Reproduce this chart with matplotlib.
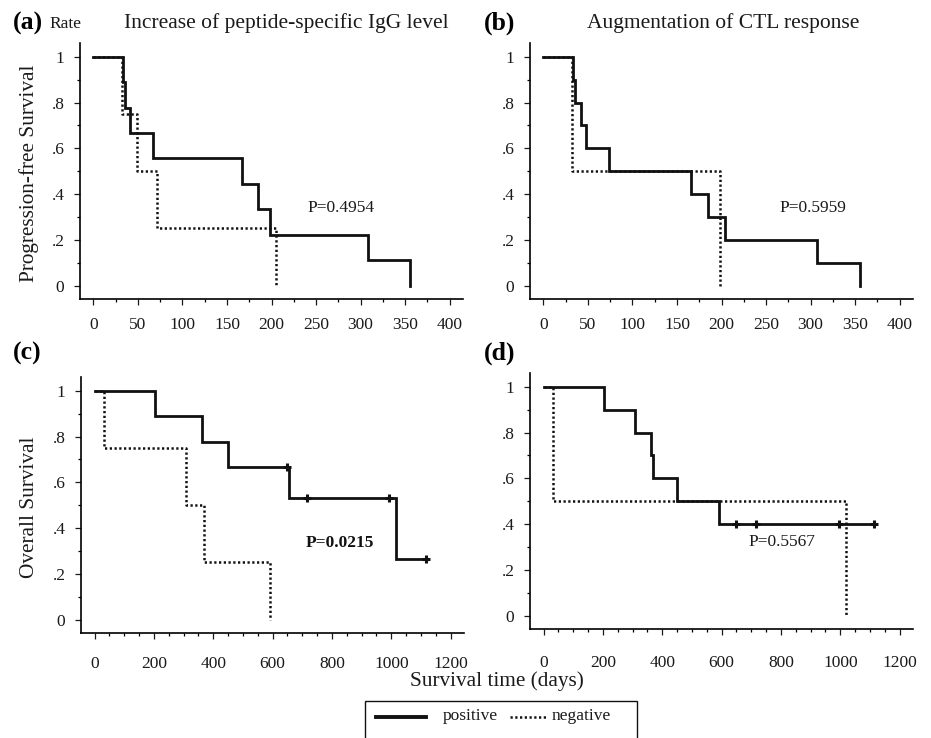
import matplotlib
matplotlib.use("Agg")
import matplotlib.pyplot as plt
from matplotlib.patches import Rectangle
from matplotlib.lines import Line2D
from matplotlib.ticker import MultipleLocator, FixedLocator, FixedFormatter

plt.rcParams['font.family'] = ['Liberation Serif', 'DejaVu Serif']

# ---------------- data ----------------
# (a) PFS by IgG increase
pfs_igg_pos_t = [0, 33, 36, 41, 67, 167, 185, 198, 308, 355]
pfs_igg_pos_s = [1, .889, .778, .667, .556, .444, .333, .222, .111, 0]
pfs_igg_neg_t = [0, 32, 49, 72, 205]
pfs_igg_neg_s = [1, .75, .5, .25, 0]
# (b) PFS by CTL augmentation
pfs_ctl_pos_t = [0, 33, 36, 42, 48, 74, 166, 185, 204, 307, 355]
pfs_ctl_pos_s = [1, .9, .8, .7, .6, .5, .4, .3, .2, .1, 0]
pfs_ctl_neg_t = [0, 32, 198]
pfs_ctl_neg_s = [1, .5, 0]
# (c) OS by IgG increase
os_igg_pos_t = [0, 202, 363, 448, 654, 1016, 1116]
os_igg_pos_s = [1, .889, .778, .667, .533, .267, .267]
os_igg_cens_t = [650, 716, 993, 1116]
os_igg_cens_s = [.667, .533, .533, .267]
os_igg_neg_t = [0, 30, 308, 370, 592]
os_igg_neg_s = [1, .75, .5, .25, 0]
# (d) OS by CTL augmentation
os_ctl_pos_t = [0, 202, 308, 362, 369, 448, 590, 1114]
os_ctl_pos_s = [1, .9, .8, .7, .6, .5, .4, .4]
os_ctl_cens_t = [648, 716, 994, 1114]
os_ctl_cens_s = [.4, .4, .4, .4]
os_ctl_neg_t = [0, 30, 1018]
os_ctl_neg_s = [1, .5, 0]

y_ticks = [0, .2, .4, .6, .8, 1]
y_ticklabels = ['0', '.2', '.4', '.6', '.8', '1']
pfs_xticks = [0, 50, 100, 150, 200, 250, 300, 350, 400]
os_xticks = [0, 200, 400, 600, 800, 1000, 1200]

p_values = ['P=0.4954', 'P=0.5959', 'P=0.0215', 'P=0.5567']
panel_letters = ['(a)', '(b)', '(c)', '(d)']
titles = ['Increase of peptide-specific IgG level', 'Augmentation of CTL response']
legend_labels = ['positive', 'negative']

# ---------------- figure ----------------
W, H = 931, 738
fig = plt.figure(figsize=(W / 100, H / 100), dpi=100)


def rect(l, r, t, b):
    return [l / W, 1 - b / H, (r - l) / W, (b - t) / H]


def fx(x):
    return x / W


def fy(y):
    return 1 - y / H


SOLID_LW = 2.0
DOT_LW = 1.8
TICK_FS = 12.5
DOTS = (0, (0.9, 1.0))


def style(ax, xticks, minor, xlim, xpad):
    ax.set_xlim(*xlim)
    ax.set_ylim(-0.058, 1.06)
    for s in ['top', 'right']:
        ax.spines[s].set_visible(False)
    for s in ['left', 'bottom']:
        ax.spines[s].set_linewidth(1.2)
    ax.xaxis.set_major_locator(FixedLocator(xticks))
    ax.xaxis.set_minor_locator(MultipleLocator(minor))
    ax.set_xticklabels([str(v) for v in xticks])
    ax.yaxis.set_major_locator(FixedLocator(y_ticks))
    ax.yaxis.set_major_formatter(FixedFormatter(y_ticklabels))
    ax.yaxis.set_minor_locator(MultipleLocator(0.1))
    ax.tick_params(which='major', length=4.2, width=0.9, labelsize=TICK_FS, colors='#1a1a1a')
    ax.tick_params(which='minor', length=2.2, width=0.9)
    ax.tick_params(axis='x', which='major', pad=xpad)
    ax.tick_params(axis='y', which='major', pad=7)


def km(ax, pt, ps, nt, ns, ct=None, cs=None):
    ax.step(pt, ps, where='post', color='#111111', lw=SOLID_LW, solid_joinstyle='miter')
    if ct is not None:
        ax.plot(ct, cs, linestyle='none', marker='+', ms=5.5, mew=2.2, color='#111111')
    ax.step(nt, ns, where='post', color='#111111', lw=DOT_LW, linestyle=DOTS)


axA = fig.add_axes(rect(80, 463, 43, 299))
axB = fig.add_axes(rect(530, 913, 43, 299))
axC = fig.add_axes(rect(81, 464, 377, 633))
axD = fig.add_axes(rect(530, 913, 373, 629))

style(axA, pfs_xticks, 25, (-15, 415), 9)
style(axB, pfs_xticks, 25, (-15, 415), 9)
style(axC, os_xticks, 50, (-46, 1245), 12.0)
style(axD, os_xticks, 50, (-46, 1245), 14.3)

km(axA, pfs_igg_pos_t, pfs_igg_pos_s, pfs_igg_neg_t, pfs_igg_neg_s)
km(axB, pfs_ctl_pos_t, pfs_ctl_pos_s, pfs_ctl_neg_t, pfs_ctl_neg_s)
km(axC, os_igg_pos_t, os_igg_pos_s, os_igg_neg_t, os_igg_neg_s, os_igg_cens_t, os_igg_cens_s)
km(axD, os_ctl_pos_t, os_ctl_pos_s, os_ctl_neg_t, os_ctl_neg_s, os_ctl_cens_t, os_ctl_cens_s)

# P values
axA.text(240, 0.34, p_values[0], fontsize=12.5, va='center', ha='left', color='#1a1a1a')
axB.text(265, 0.34, p_values[1], fontsize=12.5, va='center', ha='left', color='#1a1a1a')
axC.text(711, 0.335, p_values[2], fontsize=12.5, va='center', ha='left', fontweight='bold', color='#111111')
axD.text(690, 0.32, p_values[3], fontsize=12.5, va='center', ha='left', color='#1a1a1a')

# panel letters and titles
fig.text(fx(13), fy(23), panel_letters[0], fontsize=18.5, fontweight='bold', ha='left', va='center')
fig.text(fx(49), fy(24), 'Rate', fontsize=12.5, ha='left', va='center', color='#1a1a1a')
fig.text(fx(286), fy(23), titles[0], fontsize=15.5, ha='center', va='center', color='#1a1a1a')
fig.text(fx(484), fy(23), panel_letters[1], fontsize=18.5, fontweight='bold', ha='left', va='center')
fig.text(fx(723), fy(23), titles[1], fontsize=15.5, ha='center', va='center', color='#1a1a1a')
fig.text(fx(13), fy(353), panel_letters[2], fontsize=18.5, fontweight='bold', ha='left', va='center')
fig.text(fx(484), fy(353), panel_letters[3], fontsize=18.5, fontweight='bold', ha='left', va='center')

# axis labels
fig.text(fx(29), fy(173), 'Progression-free Survival', fontsize=15.3, rotation=90,
         ha='center', va='center', color='#1a1a1a')
fig.text(fx(29), fy(507), 'Overall Survival', fontsize=15.3, rotation=90,
         ha='center', va='center', color='#1a1a1a')
fig.text(fx(497), fy(681), 'Survival time (days)', fontsize=15.3, ha='center', va='center',
         color='#1a1a1a')

# legend box (cut off at the bottom, as in the reference)
fig.patches.append(Rectangle((fx(365), fy(760)), fx(637) - fx(365), fy(701) - fy(760),
                             transform=fig.transFigure, fill=False, lw=1.0, ec='#111111',
                             clip_on=False))
fig.lines.append(Line2D([fx(376), fx(426)], [fy(717), fy(717)], transform=fig.transFigure,
                        color='#111111', lw=2.8))
fig.text(fx(443), fy(716), legend_labels[0], fontsize=12.5, ha='left', va='center', color='#1a1a1a')
fig.lines.append(Line2D([fx(510), fx(548)], [fy(717), fy(717)], transform=fig.transFigure,
                        color='#111111', lw=1.8, linestyle=DOTS))
fig.text(fx(552), fy(716), legend_labels[1], fontsize=12.5, ha='left', va='center', color='#1a1a1a')

fig.savefig('out.png', dpi=100)
